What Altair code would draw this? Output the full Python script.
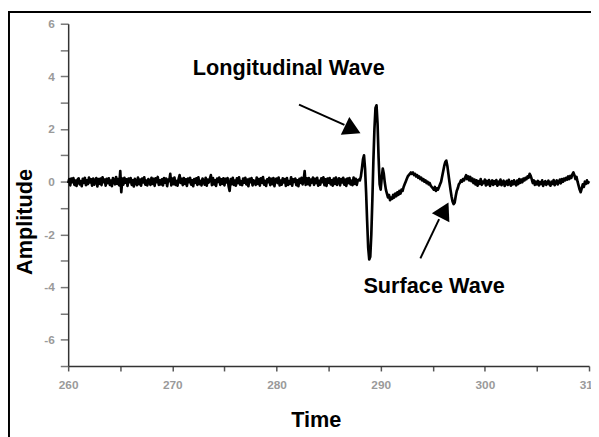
import altair as alt
import numpy as np
import pandas as pd

# ---- data ----
t_start = 260.0
t_step = 0.1

# 260.0 .. 287.9 (baseline noise)
amp_pre = [
    -0.05, 0.1, -0.14, 0.12, -0.02, 0.14, -0.12, 0.04, -0.16, 0.08,
    0.13, -0.1, 0.02, -0.17, 0.11, -0.04, 0.15, -0.13, 0.05, -0.09,
    0.16, -0.03, 0.09, -0.15, 0.12, -0.11, 0.03, 0.14, -0.18, 0.1,
    -0.08, 0.12, -0.13, 0.17, -0.02, 0.08, -0.15, 0.11, -0.05, 0.13,
    -0.12, 0.04, -0.17, 0.14, 0.02, -0.1, 0.18, -0.08, 0.1, -0.14,
    0.4, -0.4, 0.12, -0.11, 0.15, -0.04, 0.09, -0.16, 0.12, -0.02,
    0.14, -0.12, 0.05, -0.18, 0.11, 0.01, -0.13, 0.16, -0.09, 0.08,
    -0.15, 0.12, -0.03, 0.17, -0.11, 0.04, -0.14, 0.1, 0.0, -0.12,
    0.15, -0.08, 0.11, -0.16, 0.13, -0.02, 0.18, -0.12, 0.05, -0.1,
    0.09, -0.14, 0.14, -0.04, 0.12, -0.17, 0.08, 0.02, 0.3, -0.14,
    0.12, -0.09, 0.16, -0.12, 0.03, -0.15, 0.1, 0.25, -0.05, 0.11,
    -0.13, 0.14, -0.08, 0.09, -0.16, 0.12, -0.02, 0.15, -0.11, 0.05,
    -0.17, 0.1, -0.04, 0.13, -0.12, 0.17, -0.09, 0.03, -0.14, 0.12,
    0.02, -0.11, 0.15, -0.15, 0.08, -0.03, 0.11, 0.25, -0.13, 0.14,
    -0.1, 0.05, -0.16, 0.12, -0.01, 0.16, -0.12, 0.09, -0.08, 0.13,
    -0.14, 0.11, -0.03, 0.14, -0.17, -0.35, 0.1, -0.09, 0.15, -0.12,
    0.04, -0.15, 0.13, -0.05, 0.17, -0.11, 0.02, -0.13, 0.12, -0.04,
    0.15, -0.1, 0.08, -0.17, 0.11, -0.02, 0.14, -0.14, 0.05, 0.0,
    -0.12, 0.16, -0.08, 0.1, -0.15, 0.13, -0.04, 0.18, -0.11, 0.03,
    -0.16, 0.09, -0.02, 0.15, -0.13, 0.11, -0.09, 0.14, -0.17, 0.08,
    0.12, -0.05, 0.16, -0.14, 0.04, -0.11, 0.13, -0.03, 0.1, -0.16,
    0.14, -0.12, 0.02, -0.08, 0.17, -0.15, 0.09, -0.01, 0.12, -0.13,
    0.05, -0.17, 0.11, -0.04, 0.15, -0.1, 0.04, 0.4, -0.12, 0.13,
    -0.09, 0.14, -0.14, 0.08, -0.03, 0.16, -0.12, 0.11, -0.05, 0.15,
    -0.15, 0.03, -0.11, 0.13, -0.02, 0.17, -0.13, 0.09, -0.16, 0.12,
    -0.04, 0.14, -0.1, 0.05, -0.15, 0.12, -0.08, 0.16, -0.12, 0.02,
    0.13, -0.14, 0.1, -0.03, 0.15, -0.11, 0.08, -0.16, 0.12, -0.05,
    0.14, -0.1, 0.04, -0.13, 0.16, -0.08, 0.11, -0.12, 0.05, 0.08,
]

# 288.0 .. 298.0 (longitudinal and surface waves)
amp_wave = [
    0.05, 0.2, 0.5, 0.85, 1.0, 0.5, -0.4, -1.5, -2.5, -2.95,
    -2.85, -2.0, -0.7, 0.8, 2.0, 2.8, 2.9, 2.2, 0.9, -0.1,
    -0.3, 0.15, 0.5, 0.3, -0.05, -0.3, -0.45, -0.6, -0.5, -0.7,
    -0.6, -0.65, -0.5, -0.6, -0.45, -0.55, -0.4, -0.5, -0.35, -0.45,
    -0.3, -0.35, -0.2, -0.1, 0.0, 0.1, 0.2, 0.25, 0.3, 0.35,
    0.3, 0.35, 0.25, 0.3, 0.2, 0.25, 0.15, 0.2, 0.1, 0.15,
    0.05, 0.1, 0.0, 0.05, -0.05, 0.0, -0.1, -0.05, -0.15, -0.2,
    -0.25, -0.3, -0.2, -0.35, -0.25, -0.3, -0.2, -0.1, 0.0, 0.2,
    0.4, 0.6, 0.75, 0.8, 0.6, 0.3, 0.0, -0.3, -0.55, -0.75,
    -0.85, -0.8, -0.55, -0.35, -0.25, -0.1, -0.05, 0.05, 0.0, 0.1,
    0.05,
]

# 298.1 .. 310.0
amp_post = [
    0.15, 0.25, 0.1, 0.2, 0.05, 0.18, 0.02, 0.12, -0.05, 0.08,
    -0.1, 0.05, -0.15, 0.02, -0.08, 0.1, -0.12, 0.0, -0.05, 0.08,
    -0.14, 0.03, -0.1, 0.06, -0.16, -0.02, 0.05, -0.12, 0.02, -0.08,
    0.06, -0.15, 0.0, -0.1, 0.08, -0.13, -0.03, 0.04, -0.16, -0.05,
    0.03, -0.12, 0.07, -0.08, -0.15, 0.02, -0.1, 0.05, -0.06, -0.14,
    0.04, -0.09, 0.1, -0.04, 0.08, -0.02, 0.12, 0.05, 0.15, 0.1,
    0.2, 0.15, 0.3, 0.22, 0.1, -0.05, 0.05, -0.12, 0.0, -0.1,
    0.03, -0.14, -0.02, -0.08, 0.05, -0.16, -0.04, 0.02, -0.12, -0.06,
    0.04, -0.1, -0.15, 0.0, -0.08, 0.06, -0.13, -0.03, 0.05, -0.1,
    -0.02, 0.08, -0.06, 0.1, 0.0, 0.12, 0.05, 0.15, 0.08, 0.2,
    0.1, 0.22, 0.15, 0.28, 0.35, 0.25, 0.1, 0.18, 0.0, -0.15,
    -0.3, -0.4, -0.25, -0.1, -0.2, 0.0, -0.08, 0.05, -0.05, 0.02,
]

x_ticks = list(range(260, 311, 5))
y_ticks = list(range(-7, 7))

note_labels = ["Longitudinal Wave", "Surface Wave"]
note_time = [281.17, 295.13]
note_amp = [4.07, -4.23]

arrow_id = [0, 0, 1, 1]
arrow_time = [282.16, 286.52, 293.81, 295.61]
arrow_amp = [2.93, 2.16, -2.91, -1.42]

head_time = [287.32, 296.13]
head_amp = [1.98, -1.08]
head_angle = [25.5, 297.4]

# ---- tables ----
amplitude = amp_pre + amp_wave + amp_post
time = np.round(t_start + t_step * np.arange(len(amplitude)), 1)
df = pd.DataFrame({"Time": time, "Amplitude": amplitude})
notes = pd.DataFrame({"label": note_labels, "Time": note_time, "Amplitude": note_amp})
arrows = pd.DataFrame({"id": arrow_id, "Time": arrow_time, "Amplitude": arrow_amp})
heads = pd.DataFrame({"Time": head_time, "Amplitude": head_amp, "ang": head_angle})

FONT = "Liberation Sans"

x_axis = alt.Axis(
    values=x_ticks,
    labelExpr="datum.value % 10 == 0 ? toString(datum.value) : ''",
    tickSize=5, tickColor="#555", tickWidth=1.5,
    domainColor="#333", domainWidth=1.5,
    labelFont=FONT, labelFontSize=12, labelFontWeight="bold", labelColor="#9a9a9a",
    labelPadding=9, labelFlush=False, labelOverlap=False,
    title="Time", titleFont=FONT, titleFontSize=22, titleFontWeight="bold",
    titleColor="black", titleX=251, titleY=61, titleAlign="center",
    titleBaseline="alphabetic", grid=False,
)
y_axis = alt.Axis(
    values=y_ticks,
    labelExpr="datum.value % 2 == 0 ? toString(datum.value) : ''",
    tickSize=8, tickColor="#777", tickWidth=1.5,
    domainColor="#333", domainWidth=1.5,
    labelFont=FONT, labelFontSize=12, labelFontWeight="bold", labelColor="#9a9a9a",
    labelPadding=6, labelFlush=False, labelOverlap=False,
    title="Amplitude", titleFont=FONT, titleFontSize=22, titleFontWeight="bold",
    titleColor="black", titleX=-37, titleY=200.5, titleAngle=270,
    titleAlign="center", titleBaseline="alphabetic", grid=False,
)

X = alt.X("Time:Q", scale=alt.Scale(domain=[260, 310], nice=False, zero=False), axis=x_axis)
Y = alt.Y("Amplitude:Q", scale=alt.Scale(domain=[-7, 6], nice=False, zero=False), axis=y_axis)

wave = alt.Chart(df).mark_line(color="black", strokeWidth=2.7, strokeJoin="round").encode(x=X, y=Y)

texts = alt.Chart(notes).mark_text(
    font=FONT, fontSize=22, fontWeight="bold", align="center",
    baseline="alphabetic", color="black"
).encode(x=X, y=Y, text="label:N")

arrow_lines = alt.Chart(arrows).mark_line(color="black", strokeWidth=2).encode(
    x=X, y=Y, detail="id:N"
)

arrow_heads = alt.Chart(heads).mark_point(
    shape="triangle-right", filled=True, size=400, color="black", opacity=1
).encode(x=X, y=Y, angle=alt.Angle("ang:Q", scale=None))

frame_df = pd.DataFrame({"k": [0]})
frame_top = alt.Chart(frame_df).mark_rule(color="black", strokeWidth=2).encode(
    x=alt.value(-61), x2=alt.value(540), y=alt.value(-12)
)
frame_left = alt.Chart(frame_df).mark_rule(color="black", strokeWidth=2).encode(
    x=alt.value(-60), y=alt.value(-13), y2=alt.value(420)
)

chart = alt.layer(
    wave, arrow_lines, arrow_heads, texts, frame_top, frame_left
).properties(
    width=528, height=347,
    autosize=alt.AutoSizeParams(type="none"),
    padding={"left": 61, "top": 13, "right": 2, "bottom": 69},
    background="white",
).configure_view(stroke=None)

chart.save("out.html", embed_options={"renderer": "svg", "actions": False})
